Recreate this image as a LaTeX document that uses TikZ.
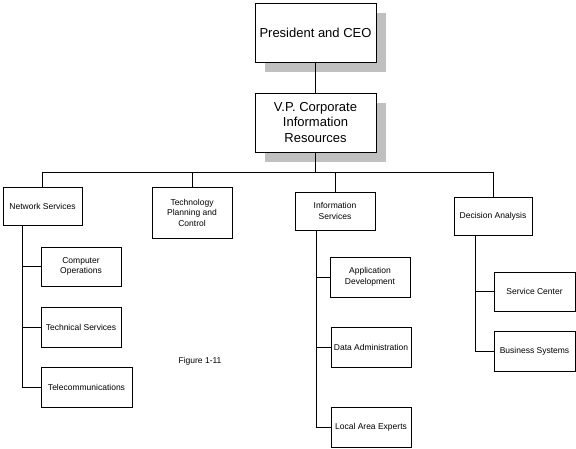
\documentclass[tikz,border=0pt]{standalone}
\usepackage{fontspec}
\setmainfont{Liberation Sans}
\usepackage{xcolor}
\usepackage{tikz}
\usetikzlibrary{positioning,shadows}
\definecolor{shadegray}{RGB}{192,192,192}
\tikzset{
  topbox/.style   = {draw, fill=white, align=center, inner sep=0pt, line width=0.8pt,
                     minimum width=121pt, minimum height=59pt,
                     font=\fontsize{13}{15.5}\selectfont,
                     drop shadow={shadow xshift=10pt, shadow yshift=-10pt, fill=shadegray, opacity=1}},
  unitbox/.style  = {draw, fill=white, align=center, inner sep=0pt, line width=0.8pt,
                     minimum width=80pt, minimum height=40pt,
                     font=\fontsize{8.5}{10.5}\selectfont},
  link/.style     = {line width=0.8pt},
}

\begin{document}
\begin{tikzpicture}[x=1pt, y=-1pt]
  \useasboundingbox (0,0) rectangle (576,448);
  % top of the chart
  \node[topbox] (ceo) at (315.5,32.5) {President and CEO};
  \node[topbox] (vp) at (315.5,122.5) {V.P. Corporate\\Information\\Resources};
  % departments
  \node[unitbox, minimum width=79pt, minimum height=38pt] (net) at (42.5,206) {Network Services};
  \node[unitbox, minimum height=51pt] (tech) at (192,212.5) {Technology\\Planning and\\Control};
  \node[unitbox, minimum height=38pt] (info) at (335,211) {Information\\Services};
  \node[unitbox, minimum width=78pt, minimum height=38pt] (dec) at (493,216) {Decision Analysis};
  % groups
  \node[unitbox, minimum height=39pt] (ops) at (81,266.5) {Computer\\Operations};
  \node[unitbox] (techsvc) at (81,327) {Technical Services};
  \node[unitbox, minimum width=91pt] (tel) at (86.5,387) {Telecommunications};
  \node[unitbox] (app) at (370,277) {Application\\Development};
  \node[unitbox] (data) at (371,347) {Data Administration};
  \node[unitbox] (lae) at (371,427) {Local Area Experts};
  \node[unitbox, minimum width=81pt, minimum height=39pt] (svc) at (534.5,291.5) {Service Center};
  \node[unitbox, minimum width=81pt] (bus) at (534.5,351) {Business Systems};
  \node[font=\fontsize{8.5}{10.5}\selectfont] (fig) at (200,361) {Figure 1-11};

  % connectors
  \coordinate (bar) at (0,172);
  \draw[link] (ceo) -- (vp);
  \draw[link] (vp.south) -- (vp.south |- bar);
  \draw[link] (net.north) -- (net.north |- bar) -- (dec.north |- bar) -- (dec.north);
  \foreach \d in {tech,info}
    \draw[link] (\d.north) -- (\d.north |- bar);

  \coordinate (netx) at ([xshift=-20pt]net.south);
  \coordinate (infox) at ([xshift=-19pt]info.south);
  \coordinate (decx) at ([xshift=-18pt]dec.south);
  \draw[link] (netx) |- (tel.west);
  \draw[link] (infox) |- (lae.west);
  \draw[link] (decx) |- (bus.west);
  \foreach \g in {ops,techsvc}
    \draw[link] (\g.west) -- (\g.west -| netx);
  \foreach \g in {app,data}
    \draw[link] (\g.west) -- (\g.west -| infox);
  \draw[link] (svc.west) -- (svc.west -| decx);
\end{tikzpicture}
\end{document}
